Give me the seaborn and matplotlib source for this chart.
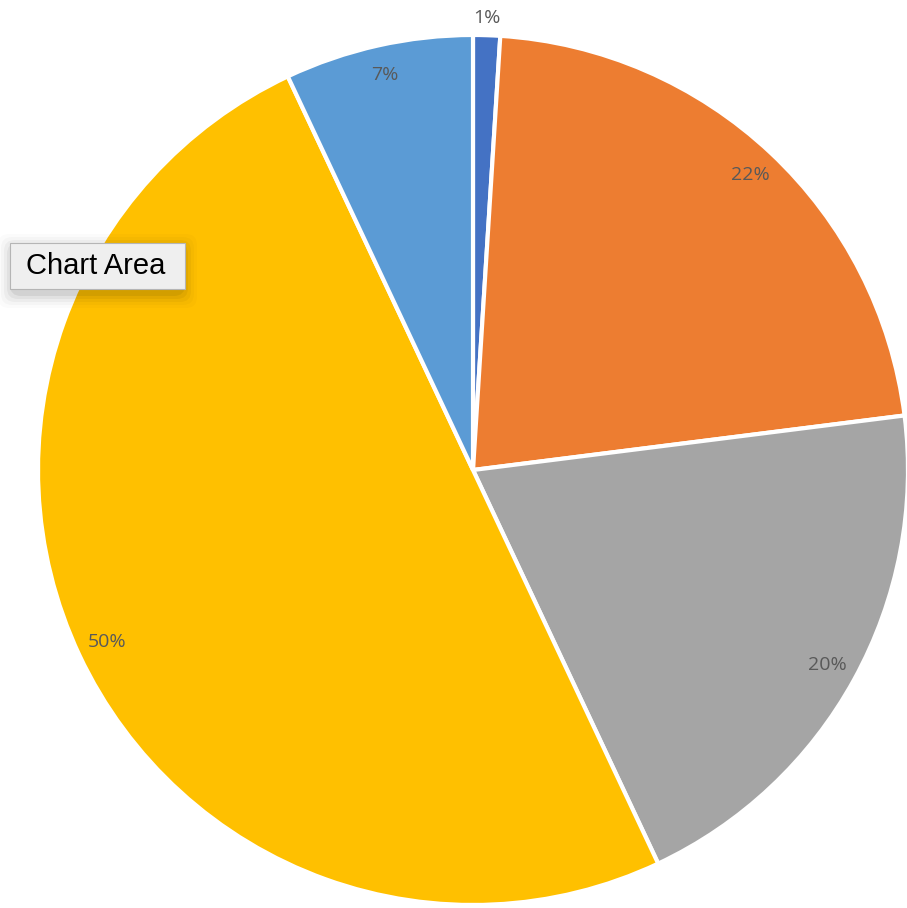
import numpy as np
import matplotlib
matplotlib.use('Agg')
import matplotlib.pyplot as plt
import matplotlib.patches as mpatches
import seaborn as sns

# datos de la grafica
labels = ['A', 'B', 'C', 'D', 'E']
values = [1, 22, 20, 50, 7]
colors = ['#4472C4', '#ED7D31', '#A5A5A5', '#FFC000', '#5B9BD5']

sns.set_theme(style='white')
plt.rcParams['font.family'] = ['Open Sans', 'DejaVu Sans']

fig = plt.figure(figsize=(9.07, 9.08), dpi=100)
ax = fig.add_axes([0, 0, 1, 1])

wedges, texts, autotexts = ax.pie(
    values, colors=colors, startangle=90, counterclock=False,
    autopct='%1.0f%%', pctdistance=0.93, radius=1.0,
    wedgeprops=dict(edgecolor='white', linewidth=3),
    textprops=dict(color='#595959', fontsize=14))

# la etiqueta del 1% va fuera del pastel
for w, t, v in zip(wedges, autotexts, values):
    if v < 3:
        ang = np.deg2rad((w.theta1 + w.theta2) / 2)
        t.set_position((1.04 * np.cos(ang), 1.04 * np.sin(ang)))

# encuadre: centro en (473, 470) px, radio 435 px
s = 435.0
ax.set_xlim(-473 / s, (907 - 473) / s)
ax.set_ylim(-(908 - 470) / s, 470 / s)
ax.axis('off')

#-----------
# cuadro "Chart Area" (tooltip)
W, H = 907.0, 908.0
for i, a in enumerate([0.06, 0.045, 0.035, 0.025, 0.015]):
    d = 2 + 3 * i
    fig.patches.append(mpatches.FancyBboxPatch(
        ((10 - d + 2) / W, 1 - (289 + d + 5) / H), (175 + 2 * d - 4) / W, (46 + 2 * d) / H,
        boxstyle='round,pad=0,rounding_size=0.012', transform=fig.transFigure,
        fc='black', ec='none', alpha=a, zorder=5))
fig.patches.append(mpatches.Rectangle(
    (10 / W, 1 - 289 / H), 175 / W, 46 / H, transform=fig.transFigure,
    fc='#EFEFEF', ec='#B5B5B5', lw=0.8, zorder=6))
fig.text(96 / W, 1 - 266 / H, 'Chart Area', ha='center', va='center',
         fontsize=21, color='black', family=['Liberation Sans', 'DejaVu Sans'], zorder=7)
#-----------

plt.savefig('out.png', dpi=100)
plt.close()
